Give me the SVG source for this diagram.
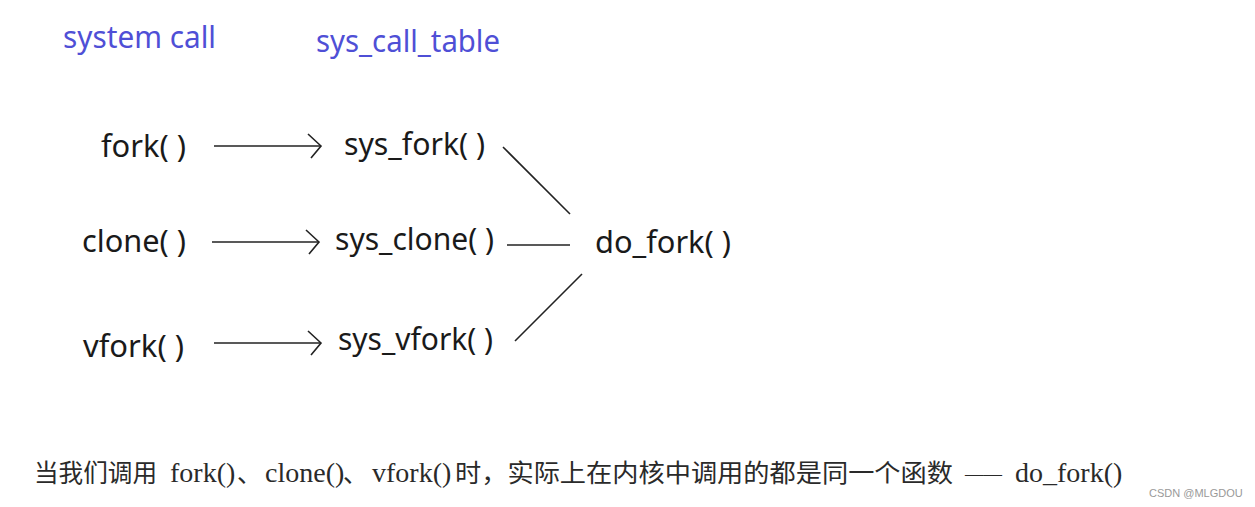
<svg xmlns="http://www.w3.org/2000/svg" width="1255" height="507" viewBox="0 0 1255 507">
<style>
.hdr{font-family:"Noto Sans","Open Sans",sans-serif;font-size:30px;fill:#4f4fd6}
.lbl{font-family:"Noto Sans","Open Sans",sans-serif;font-size:30px;fill:#1a1a1a}
.cap{font-family:"Liberation Serif","Noto Sans CJK SC",serif;font-size:24.5px;fill:#2a2a2a}
.la{font-size:28px}
.dash{font-size:18.5px}
.wm{font-family:"Liberation Sans",sans-serif;font-size:11px;fill:#999}
.ln{stroke:#222;stroke-width:1.6;fill:none}
</style>
<defs>
<marker id="arr" markerWidth="16" markerHeight="28" refX="14" refY="13" orient="auto" markerUnits="userSpaceOnUse">
<path d="M1,1 L14,13 L4,25" fill="none" stroke="#222" stroke-width="1.6"/>
</marker>
</defs>
<rect width="1255" height="507" fill="#fff"/>
<g id="headers">
<text class="hdr" x="63" y="48" textLength="153" lengthAdjust="spacingAndGlyphs">system call</text>
<text class="hdr" x="316" y="52" textLength="184" lengthAdjust="spacingAndGlyphs">sys_call_table</text>
</g>
<g id="n-fork"><text class="lbl" x="101" y="157" textLength="85" lengthAdjust="spacingAndGlyphs">fork( )</text></g>
<g id="n-clone"><text class="lbl" x="82" y="252" textLength="104" lengthAdjust="spacingAndGlyphs">clone( )</text></g>
<g id="n-vfork"><text class="lbl" x="83" y="357" textLength="101" lengthAdjust="spacingAndGlyphs">vfork( )</text></g>
<g id="n-sys_fork"><text class="lbl" x="344" y="155" textLength="141" lengthAdjust="spacingAndGlyphs">sys_fork( )</text></g>
<g id="n-sys_clone"><text class="lbl" x="335" y="250" textLength="159" lengthAdjust="spacingAndGlyphs">sys_clone( )</text></g>
<g id="n-sys_vfork"><text class="lbl" x="338" y="350" textLength="155" lengthAdjust="spacingAndGlyphs">sys_vfork( )</text></g>
<g id="n-do_fork"><text class="lbl" x="595" y="253" textLength="136" lengthAdjust="spacingAndGlyphs">do_fork( )</text></g>
<g id="connectors">
<line class="ln" x1="214" y1="146" x2="321" y2="146" marker-end="url(#arr)"/>
<line class="ln" x1="212" y1="242" x2="319" y2="242" marker-end="url(#arr)"/>
<line class="ln" x1="214" y1="343" x2="321" y2="343" marker-end="url(#arr)"/>
<line class="ln" x1="503" y1="147" x2="570" y2="214"/>
<line class="ln" x1="507" y1="245" x2="570" y2="245"/>
<line class="ln" x1="515" y1="341" x2="582" y2="274"/>
</g>
<g id="caption">
<text class="cap" y="482"><tspan x="34" textLength="123" lengthAdjust="spacingAndGlyphs">当我们调用</tspan><tspan class="la" x="170">fork()</tspan><tspan x="237">、</tspan><tspan class="la" x="265">clone()</tspan><tspan x="343">、</tspan><tspan class="la" x="372">vfork()</tspan><tspan x="455" textLength="498" lengthAdjust="spacingAndGlyphs">时，实际上在内核中调用的都是同一个函数</tspan><tspan class="dash" x="965" dy="-2">——</tspan><tspan class="la" x="1015" dy="2">do_fork()</tspan></text>
</g>
<text class="wm" x="1149" y="497">CSDN @MLGDOU</text>
</svg>
